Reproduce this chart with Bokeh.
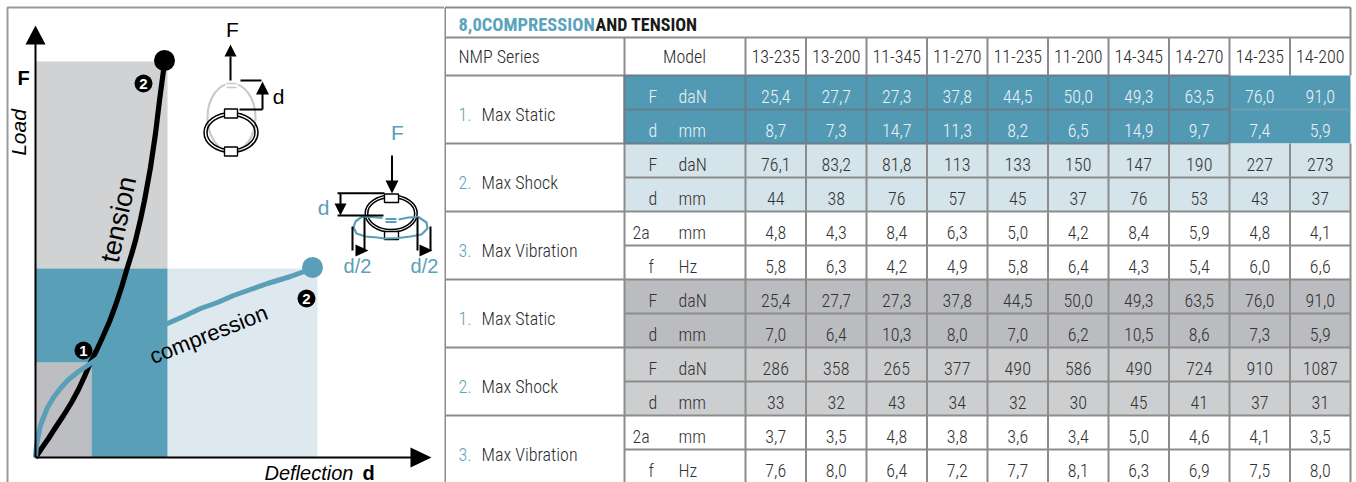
from bokeh.plotting import figure
from bokeh.layouts import row
from bokeh.models import Range1d, FixedTicker
from bokeh.core.properties import value
from bokeh.embed import file_html
from bokeh.resources import INLINE

# ------------- data -------------
models = ["13-235","13-200","11-345","11-270","11-235","11-200","14-345","14-270","14-235","14-200"]
title_teal = "8,0COMPRESSION"
title_dark = "AND TENSION"
head_series = "NMP Series"
head_model = "Model"
group_numbers = ["1.","2.","3.","1.","2.","3."]
group_names = ["Max Static","Max Shock","Max Vibration","Max Static","Max Shock","Max Vibration"]
symbols = ["F","d","F","d","2a","f","F","d","F","d","2a","f"]
units = ["daN","mm","daN","mm","mm","Hz","daN","mm","daN","mm","mm","Hz"]
comp_static_F = ["25,4","27,7","27,3","37,8","44,5","50,0","49,3","63,5","76,0","91,0"]
comp_static_d = ["8,7","7,3","14,7","11,3","8,2","6,5","14,9","9,7","7,4","5,9"]
comp_shock_F = ["76,1","83,2","81,8","113","133","150","147","190","227","273"]
comp_shock_d = ["44","38","76","57","45","37","76","53","43","37"]
comp_vib_a = ["4,8","4,3","8,4","6,3","5,0","4,2","8,4","5,9","4,8","4,1"]
comp_vib_f = ["5,8","6,3","4,2","4,9","5,8","6,4","4,3","5,4","6,0","6,6"]
tens_static_F = ["25,4","27,7","27,3","37,8","44,5","50,0","49,3","63,5","76,0","91,0"]
tens_static_d = ["7,0","6,4","10,3","8,0","7,0","6,2","10,5","8,6","7,3","5,9"]
tens_shock_F = ["286","358","265","377","490","586","490","724","910","1087"]
tens_shock_d = ["33","32","43","34","32","30","45","41","37","31"]
tens_vib_a = ["3,7","3,5","4,8","3,8","3,6","3,4","5,0","4,6","4,1","3,5"]
tens_vib_f = ["7,6","8,0","6,4","7,2","7,7","8,1","6,3","6,9","7,5","8,0"]
table_rows = [comp_static_F, comp_static_d, comp_shock_F, comp_shock_d, comp_vib_a, comp_vib_f,
              tens_static_F, tens_static_d, tens_shock_F, tens_shock_d, tens_vib_a, tens_vib_f]

# curves in chart units (deflection, load)
tension_d = [0, 6, 13, 20, 28, 36, 43, 49, 55, 61, 67, 74, 80, 86, 91, 96, 100, 105, 109, 115, 120, 124, 128, 130]
tension_F = [0, 9, 19, 30, 42, 55, 68, 81, 95, 107, 120, 136, 152, 170, 187, 203, 217, 238, 257, 290, 324, 357, 387, 396]
compression_d = [0, 1, 3, 5, 8, 12, 18, 24, 32, 43, 55, 68, 82, 96, 112, 132, 148, 165, 182, 198, 215, 232, 255, 277]
compression_F = [0, 12, 23, 32, 40, 50, 60, 68, 77, 86, 94, 103, 111, 118, 125, 134, 141, 149, 155, 162, 168, 174, 181, 189]
point1_d = 56
point1_F = 95
tension_end_d = 132
tension_end_F = 396
compression_end_d = 282
compression_end_F = 189

BLACK = "#000000"
TEAL = "#5A9FB8"
F_REG = "Liberation Sans"
T_FONT = "Roboto Condensed Light, Roboto Condensed"
T_BOLD = "Roboto Condensed"

# ------------- left panel -------------
OX, OY = 35, 457
def X(px): return px - OX
def Y(py): return OY - py

L = figure(width=444, height=482, output_backend="svg", toolbar_location=None,
           x_range=Range1d(0 - OX, 444 - OX), y_range=Range1d(OY - 482, OY),
           min_border=0, outline_line_color=None)
L.grid.visible = False
for ax, bd in ((L.xaxis, (0, 385)), (L.yaxis, (0, 420))):
    ax.fixed_location = 0
    ax.bounds = bd
    ax.ticker = FixedTicker(ticks=[])
    ax.major_label_text_font_size = "0px"
    ax.major_tick_line_color = None
    ax.minor_tick_line_color = None
    ax.axis_line_color = BLACK
    ax.axis_line_width = 2

# frame
L.line([X(7), X(7), X(445)], [Y(483), Y(7), Y(7)], line_color="#9A9A9A", line_width=2, level="underlay")

# regions
L.quad(left=[0], right=[tension_end_d], bottom=[compression_end_F], top=[tension_end_F], fill_color="#D1D2D4", line_color=None, level="underlay")
L.quad(left=[tension_end_d], right=[compression_end_d], bottom=[0], top=[compression_end_F], fill_color="#DDE9EF", line_color=None, level="underlay")
L.quad(left=[0], right=[point1_d], bottom=[0], top=[point1_F], fill_color="#BDBEC1", line_color=None, level="underlay")
L.patch([0, tension_end_d, tension_end_d, point1_d, point1_d, 0],
        [compression_end_F, compression_end_F, 0, 0, point1_F, point1_F],
        fill_color=TEAL, line_color=None, level="underlay")

# curves
L.line(tension_d, tension_F, line_color=BLACK, line_width=5.2, line_join="round")
L.line(compression_d, compression_F, line_color=TEAL, line_width=5, line_join="round")
L.scatter([tension_end_d - 3], [tension_end_F + 1], size=21, marker="circle", fill_color=BLACK, line_color=None)
L.scatter([compression_end_d - 5], [compression_end_F + 1], size=21, marker="circle", fill_color=TEAL, line_color=None)

def tri(pts, color=BLACK):
    L.patch([X(a) for a, _ in pts], [Y(b) for _, b in pts], fill_color=color, line_color=None)
def seg(x0, y0, x1, y1, color=BLACK, w=2):
    L.line([X(x0), X(x1)], [Y(y0), Y(y1)], line_color=color, line_width=w)
def txt(px, py, s, size, color=BLACK, style="normal", font=F_REG, align="center", angle=0, base="middle"):
    L.text([X(px)], [Y(py)], text=[s], text_font=value(font), text_font_size=value(f"{size}px"),
           text_color=color, text_font_style=style, text_align=align, text_baseline=base, angle=angle)

# axis heads
tri([(35, 25), (25, 44), (45, 44)])
tri([(431, 457), (410, 447), (410, 467)])

# badges
for px, py, s in ((143, 83, "2"), (306, 298, "2"), (83, 350, "1")):
    L.scatter([X(px)], [Y(py)], size=18, marker="circle", fill_color=BLACK, line_color=None)
    txt(px, py + 0.5, s, 15, color="#FFFFFF", style="bold")

# labels
txt(23, 77, "F", 20, style="bold")
txt(18, 132, "Load", 21, style="italic", angle=1.5708)
txt(264, 472, "Deflection", 20, style="italic", align="left")
txt(362, 472, "d", 20, style="bold", align="left")
txt(118, 219, "tension", 27, angle=1.36)
txt(208, 334, "compression", 22, angle=0.375)

# tension sketch
L.ellipse([X(231)], [Y(117)], width=[48], height=[68], fill_color=None, line_color="#C9C9C9", line_width=2.2)
L.quad(left=[X(225)], right=[X(237)], top=[Y(80)], bottom=[Y(90)], fill_color="#FFFFFF", line_color=None)
seg(226, 83, 236, 83, "#C9C9C9", 1.6)
seg(226, 87, 236, 87, "#C9C9C9", 1.6)
for w_, h_ in ((54, 40), (48, 34)):
    L.ellipse([X(230.5)], [Y(132)], width=[w_], height=[h_], fill_color=None, line_color=BLACK, line_width=1.5)
for py in (113, 151):
    L.quad(left=[X(224)], right=[X(237)], top=[Y(py - 4.5)], bottom=[Y(py + 4.5)], fill_color="#FFFFFF", line_color=BLACK, line_width=1.4)
seg(230, 80, 230, 56)
tri([(230, 44), (224, 56), (236, 56)])
seg(240, 80, 261, 80)
seg(239, 109, 262, 109)
seg(262, 109, 262, 92)
tri([(262, 81), (255.5, 94), (268.5, 94)])
txt(232, 29, "F", 21)
txt(278, 96, "d", 21)

# compression sketch
L.ellipse([X(390.7)], [Y(213)], width=[52], height=[37], fill_color=None, line_color=BLACK, line_width=1.5)
L.ellipse([X(390.7)], [Y(213)], width=[47], height=[32], fill_color=None, line_color=BLACK, line_width=1.5)
L.quad(left=[X(384)], right=[X(398)], top=[Y(193.5)], bottom=[Y(202)], fill_color="#FFFFFF", line_color=BLACK, line_width=1.4)
L.quad(left=[X(384)], right=[X(398)], top=[Y(231)], bottom=[Y(239)], fill_color="#FFFFFF", line_color=BLACK, line_width=1.4)
shape = [(382, 217.5), (371, 216.5), (361, 216.5), (355, 221), (353, 227), (356, 233), (365, 236), (377, 237), (384, 238),
         (398, 237.5), (410, 236), (421, 234), (427, 228), (426, 222), (418, 216.5), (408, 217), (398, 219)]
L.line([X(a) for a, _ in shape], [Y(b) for _, b in shape], line_color=TEAL, line_width=2.2)
seg(385, 218.5, 396, 218.5, TEAL, 1.8)
seg(385, 221.5, 396, 221.5, TEAL, 1.8)
seg(391.5, 155, 391.5, 181)
tri([(391.5, 193), (385, 180), (398, 180)])
seg(337, 192.7, 384, 192.7)
seg(337, 215, 383, 215)
seg(340, 192.7, 340, 205)
tri([(340, 215), (334, 203), (346, 203)])
seg(352, 226, 352, 250)
seg(364, 217, 364, 250)
tri([(368, 250), (355, 244), (355, 256)])
seg(417, 217, 417, 250)
seg(430, 226, 430, 250)
tri([(432, 250), (419, 244), (419, 256)])
txt(397, 132, "F", 21, color=TEAL)
txt(323, 207, "d", 21, color=TEAL)
txt(357, 265, "d/2", 20, color=TEAL)
txt(424, 265, "d/2", 20, color=TEAL)

# ------------- table -------------
T = figure(width=912, height=482, output_backend="svg", toolbar_location=None,
           x_range=Range1d(444, 1356), y_range=Range1d(482, 0),
           min_border=0, outline_line_color=None)
T.axis.visible = False
T.grid.visible = False

col_edges = [745 + i * 60.5 for i in range(len(models) + 1)]
row_edges = [75 + i * 34 for i in range(len(table_rows) + 1)]
X_L, X_G, X_M, X_R = 444.5, 624, 745, 1350
Y_T, Y_H = 7, 37

fills = ["#5299B3", "#5299B3", "#D5E3EB", "#D5E3EB", "#FFFFFF", "#FFFFFF",
         "#BBBCBF", "#BBBCBF", "#CDCED0", "#CDCED0", "#FFFFFF", "#FFFFFF"]
T.quad(left=[X_G] * 12, right=[X_R] * 12, top=row_edges[:-1], bottom=row_edges[1:], fill_color=fills, line_color=None)

GRID = "#8C8C8C"
DARK = "#667F8C"
sx0, sy0, sx1, sy1, sc = [], [], [], [], []
def add(x0, y0, x1, y1, c=GRID):
    sx0.append(x0); sy0.append(y0); sx1.append(x1); sy1.append(y1); sc.append(c)

y_end = row_edges[-1]
split = col_edges[8]
add(X_L, Y_T, X_R, Y_T); add(X_L, Y_H, X_R, Y_H)
add(X_L, Y_T, X_L, y_end); add(X_R, Y_T, X_R, row_edges[0])
add(X_R, row_edges[2], X_R, y_end)
add(X_G, Y_H, X_G, y_end, GRID)
for i, y in enumerate(row_edges[:-1]):
    if i % 2 == 0:
        add(X_L, y, X_G, y)
    if i == 0:
        add(X_G, y, split, y, DARK)
    elif i == 1:
        add(X_G, y, split, y, DARK); add(split, y, X_R, y, "#6C9DB0")
    elif i == 2:
        add(X_G, y, split, y, DARK)
    else:
        add(X_G, y, X_R, y)
for j, x in enumerate(col_edges[:-1]):
    add(x, Y_H, x, row_edges[0])
    if j <= 8:
        add(x, row_edges[0], x, row_edges[2], DARK)
    add(x, row_edges[2], x, y_end)
add(X_G, row_edges[0], X_G, row_edges[2], DARK)
T.segment(sx0, sy0, sx1, sy1, line_color=sc, line_width=2)

def ttxt(xs, ys, ss, size=18, color="#2B2B2B", align="left", style="normal", font=T_FONT):
    T.text(xs, ys, text=ss, text_font=value(font), text_font_size=value(f"{size}px"),
           text_color=color, text_font_style=style, text_align=align, text_baseline="middle")

NUM = "#5AA3BC"
ttxt([458], [24], [title_teal], size=18.5, color=NUM, style="bold", font=T_BOLD)
ttxt([595], [24], [title_dark], size=18, color="#1A1A1A", style="bold", font=T_BOLD)
ttxt([458], [55.5], [head_series])
ttxt([684], [55.5], [head_model], align="center")
centers = [(col_edges[i] + col_edges[i + 1]) / 2 for i in range(len(models))]
ttxt(centers, [55.5] * len(models), models, align="center")
for i, (n, g) in enumerate(zip(group_numbers, group_names)):
    yc = row_edges[2 * i + 1] + 5
    ttxt([458], [yc], [n], color=NUM)
    ttxt([481], [yc], [g])
for i, (sym, un, vals) in enumerate(zip(symbols, units, table_rows)):
    yc = row_edges[i + 1] - 13
    col = "#EAF2F5" if i < 2 else "#333333"
    ttxt([632 if sym == "2a" else 648], [yc], [sym], color=col)
    ttxt([678], [yc], [un], color=col)
    ttxt(centers, [yc] * len(vals), vals, color=col, align="center")

open("out.html", "w").write(file_html(row(L, T, spacing=0), INLINE))
